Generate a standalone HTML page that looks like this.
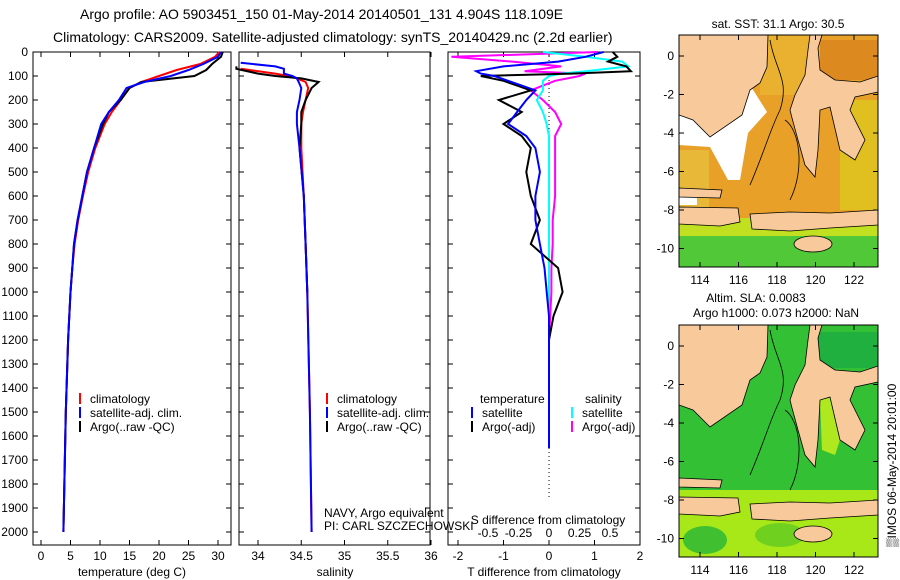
<!DOCTYPE html>
<html><head><meta charset="utf-8"><style>
body{margin:0;background:#fff;font-family:"Liberation Sans",sans-serif}
svg{display:block}
text{font-family:"Liberation Sans",sans-serif;font-size:12px;fill:#000}
</style></head><body>
<svg id="s" width="900" height="580">
<text x="80" y="19" style="font-size:14px">Argo profile: AO 5903451_150 01-May-2014 20140501_131 4.904S 118.109E</text>
<text x="53" y="42" style="font-size:14px">Climatology: CARS2009. Satellite-adjusted climatology: synTS_20140429.nc (2.2d earlier)</text>
<g id="maps"></g>
<g id="plots"></g>
<text transform="translate(896,547) rotate(-90)" style="font-size:12px">▒IMOS 06-May-2014 20:01:00</text>
</svg>
<script>
// ---- data ----
const depthTicks=[0,100,200,300,400,500,600,700,800,900,1000,1100,1200,1300,1400,1500,1600,1700,1800,1900,2000];
const tempTicks=[0,5,10,15,20,25,30];
const salTicks=[34,34.5,35,35.5,36];
const sTicksDiff=[-0.5,-0.25,0,0.25,0.5];
const tTicksDiff=[-2,-1,0,1,2];
const depthT=[0,20,50,75,100,125,150,200,250,300,400,500,600,700,800,900,1000,1200,1500,2000];
const tempClim=[30.2,29.5,27,23,20,17,15,13.5,12,10.8,9.2,8,7.1,6.3,5.7,5.3,5,4.6,4.2,3.8];
const tempSat=[30.5,30,27.5,25,22,17.5,14.5,13.2,11.5,10.2,9,7.8,7,6.2,5.6,5.3,5,4.6,4.2,3.8];
const tempArgo=[30.8,30.5,29,28,26,17,15,13.5,11.5,10.5,9,7.8,7,6.2,5.6,5.3,5,4.6,4.2,3.8];
const depthS=[45,60,70,90,100,110,125,150,200,250,300,400,600,800,1000,1500,2000];
const salClim=[null,null,33.8,34.2,34.35,34.45,34.55,34.58,34.55,34.52,34.5,34.5,34.53,34.55,34.57,34.6,34.62];
const salSat=[33.8,34.2,34.3,34.3,34.4,34.45,34.47,34.5,34.48,34.45,34.45,34.48,34.53,34.55,34.57,34.6,34.62];
const salArgo=[null,33.75,33.75,34.0,34.2,34.5,34.7,34.62,34.55,34.5,34.5,34.48,34.53,34.55,34.57,null,null];
const depthD=[0,20,40,60,80,90,100,120,140,160,200,250,300,350,400,500,600,700,800,900,1000,1100,1200,1400,1650];
const tDiffSat=[1.2,0.8,0.2,-1.0,-1.6,-1.5,-1.2,-0.9,-0.6,-0.3,-0.5,-0.7,-0.9,-0.5,-0.3,-0.2,-0.3,-0.3,-0.2,-0.1,-0.05,0,0,0,0];
const tDiffArgo=[1.4,1.5,1.3,1.7,1.8,0.5,-1.5,-1.0,-0.7,-0.4,-1.1,-0.6,-1.0,-0.6,-0.4,-0.5,-0.4,-0.2,-0.4,0.2,0.3,0.1,0,0,0];
const sDiffSat=[-0.05,0.3,0.6,0.65,0.3,0.1,0,-0.05,-0.05,-0.05,-0.1,-0.05,-0.02,0,0,0,0,0,0,0,0,0,0,0,0];
const sDiffArgo=[0.4,-0.8,-0.3,0.1,-0.2,0.3,0.25,0.05,-0.05,-0.15,-0.05,0.05,0.1,0.05,0.05,0.05,0.05,0.03,0.03,0.02,0.02,0.01,0,0,0];
const mapLonTicks=[114,116,118,120,122];
const mapLatTicks=[0,-2,-4,-6,-8,-10];

const NS='http://www.w3.org/2000/svg';
function mk(tag,attrs,parent){const e=document.createElementNS(NS,tag);for(const k in attrs)e.setAttribute(k,attrs[k]);parent.appendChild(e);return e;}
const plots=document.getElementById('plots');
const yD=d=>52+d*0.24;
function panel(name,x0,x1,xf,ticks,tickFmt,showY){
  const g=mk('g',{},plots);
  
  
  const r=mk('rect',{x:x0,y:52,width:x1-x0,height:493,fill:'none',stroke:'#000','stroke-width':1},g);
  
  
  depthTicks.forEach(d=>{
    mk('line',{x1:x0,x2:x0+5,y1:yD(d),y2:yD(d),stroke:'#000'},g);
    mk('line',{x1:x1,x2:x1-5,y1:yD(d),y2:yD(d),stroke:'#000'},g);
    if(showY){const t=mk('text',{x:x0-5,y:yD(d)+4,'text-anchor':'end'},g);t.textContent=d;
      
      }
  });
  ticks.forEach(v=>{
    const x=xf(v);
    mk('line',{x1:x,x2:x,y1:545,y2:540,stroke:'#000'},g);
    mk('line',{x1:x,x2:x,y1:52,y2:57,stroke:'#000'},g);
    const t=mk('text',{x:x,y:560,'text-anchor':'middle'},g);t.textContent=tickFmt(v);
    
    
  });
  return g;
}
function line(g,xs,ds,xf,col,name,w){
  let p='';let pen=false;
  xs.forEach((v,i)=>{if(v===null){pen=false;return;}p+=(pen?'L':'M')+xf(v).toFixed(1)+','+yD(ds[i]).toFixed(1);pen=true;});
  const e=mk('path',{d:p,fill:'none',stroke:col,'stroke-width':w||2},g);
  
  
}
function txt(g,x,y,s,name,anchor){const t=mk('text',{x:x,y:y,'text-anchor':anchor||'start'},g);t.textContent=s;
  
  return t;}
function legItem(g,x,y,col,s,name){mk('line',{x1:x,x2:x,y1:y-10,y2:y+1,stroke:col,'stroke-width':2},g);txt(g,x+10,y,s,name);}

// Panel 1 temperature
const xT=v=>41+v*5.9;
const p1=panel('temperature-panel',33,231,xT,tempTicks,v=>v,true);
line(p1,tempClim,depthT,xT,'#f00','temp-climatology-line');
line(p1,tempArgo,depthT,xT,'#000','temp-argo-line');
line(p1,tempSat,depthT,xT,'#00f','temp-satellite-line');
txt(p1,132,576,'temperature (deg C)','temperature-axis-title','middle');
legItem(p1,80,403,'#f00','climatology','legend-climatology');
legItem(p1,80,417,'#00f','satellite-adj. clim.','legend-satellite');
legItem(p1,80,431,'#000','Argo(..raw -QC)','legend-argo');

// Panel 2 salinity
const xS=v=>258+(v-34)*86.5;
const p2=panel('salinity-panel',239,430,xS,salTicks,v=>v,false);
line(p2,salClim,depthS,xS,'#f00','sal-climatology-line');
line(p2,salArgo,depthS,xS,'#000','sal-argo-line');
line(p2,salSat,depthS,xS,'#00f','sal-satellite-line');
txt(p2,335,576,'salinity','salinity-axis-title','middle');
legItem(p2,327,403,'#f00','climatology','legend-climatology-2');
legItem(p2,327,417,'#00f','satellite-adj. clim.','legend-satellite-2');
legItem(p2,327,431,'#000','Argo(..raw -QC)','legend-argo-2');
txt(p2,324,517,'NAVY, Argo equivalent','navy-label');
txt(p2,324,530,'PI: CARL SZCZECHOWSKI','pi-label');

// Panel 3 differences
const xTd=v=>549+v*45.5;
const xSd=v=>549+v*122;
const p3=panel('difference-panel',448,640,xTd,tTicksDiff,v=>v,false);
sTicksDiff.forEach(v=>{txt(p3,xSd(v),537,v,'s-diff-tick-label','middle');});
mk('line',{x1:549,x2:549,y1:52,y2:500,stroke:'#000','stroke-dasharray':'1,3'},p3);
line(p3,sDiffArgo,depthD,xSd,'#f0f','s-diff-argo-line');
line(p3,sDiffSat,depthD,xSd,'#0ff','s-diff-satellite-line');
line(p3,tDiffArgo,depthD,xTd,'#000','t-diff-argo-line');
line(p3,tDiffSat,depthD,xTd,'#00f','t-diff-satellite-line');
txt(p3,548,524,'S difference from climatology','s-diff-axis-title','middle');
txt(p3,544,576,'T difference from climatology','t-diff-axis-title','middle');
txt(p3,480,403,'temperature','legend-temperature-header');
txt(p3,585,403,'salinity','legend-salinity-header');
legItem(p3,472,417,'#00f','satellite','legend-t-satellite');
legItem(p3,472,431,'#000','Argo(-adj)','legend-t-argo');
legItem(p3,572,417,'#0ff','satellite','legend-s-satellite');
legItem(p3,572,431,'#f0f','Argo(-adj)','legend-s-argo');

// Maps
const maps=document.getElementById('maps');
const mLon=l=>700+(l-114)*19.25;
function poly(g,pts,yOff,fill,stroke){
  return mk('polygon',{points:pts.map(p=>p[0]+','+(p[1]+yOff)).join(' '),fill:fill,stroke:stroke||'none','stroke-width':0.8},g);
}
function map(name,yOff,top){
  const g=mk('g',{},maps);
  
  
  const lat0=56+yOff;
  if(top){
    mk('rect',{x:679,y:35+yOff,width:199,height:232,fill:'#e8a028'},g);
    mk('rect',{x:760,y:35+yOff,width:60,height:60,fill:'#eab030'},g);
    mk('rect',{x:820,y:40+yOff,width:58,height:40,fill:'#dc8a20'},g);
    mk('rect',{x:840,y:100+yOff,width:38,height:110,fill:'#e0c020'},g);
    mk('rect',{x:679,y:150+yOff,width:30,height:60,fill:'#e8b838'},g);
    mk('rect',{x:679,y:218+yOff,width:199,height:20,fill:'#c0e020'},g);
    mk('rect',{x:679,y:236+yOff,width:199,height:31,fill:'#50c838'},g);
    poly(g,[[679,115],[693,120],[710,137],[742,115],[750,85],[767,112],[748,133],[740,180],[728,180],[710,147],[679,145]],yOff,'#fff');
    mk('rect',{x:679,y:195+yOff,width:18,height:10,fill:'#fff'},g);
  }else{
    mk('rect',{x:679,y:35+yOff,width:199,height:232,fill:'#34c034'},g);
    mk('rect',{x:818,y:42+yOff,width:60,height:36,fill:'#20b040'},g);
    poly(g,[[820,110],[833,107],[840,150],[835,165],[822,160]],yOff,'#b0e820');
    mk('rect',{x:679,y:200+yOff,width:199,height:67,fill:'#a8e818'},g);
    mk('ellipse',{cx:705,cy:250+yOff,rx:22,ry:14,fill:'#40c030'},g);
    mk('ellipse',{cx:780,cy:245+yOff,rx:25,ry:12,fill:'#70d020'},g);
  }
  const land='#f7c99b';
  poly(g,[[679,35],[768,35],[767,67],[760,83],[750,90],[742,115],[710,137],[693,120],[679,115]],yOff,land,'#000');
  poly(g,[[810,35],[822,35],[818,48],[820,70],[835,80],[860,82],[878,76],[878,92],[855,97],[850,110],[865,140],[855,160],[840,150],[833,120],[830,107],[820,110],[818,150],[815,177],[805,165],[798,140],[792,118],[790,110],[795,95],[805,75],[808,50]],yOff,land,'#000');
  poly(g,[[679,188],[722,190],[720,198],[679,197]],yOff,land,'#000');
  poly(g,[[679,207],[738,208],[740,222],[720,226],[679,224]],yOff,land,'#000');
  poly(g,[[750,214],[790,212],[830,213],[878,210],[878,225],[830,228],[790,231],[752,229]],yOff,land,'#000');
  mk('ellipse',{cx:813,cy:244+yOff,rx:19,ry:8,fill:land,stroke:'#000','stroke-width':0.8},g);
  mk('path',{d:'M770,40 C775,70 790,80 780,110 C770,130 765,150 750,185 M785,120 C800,130 805,170 790,200',fill:'none',stroke:'#000','stroke-width':0.8,transform:'translate(0,'+yOff+')'},g);
  mk('rect',{x:679,y:35+yOff,width:199,height:232,fill:'none',stroke:'#000'},g);
  mapLonTicks.forEach(l=>{const x=mLon(l);
    mk('line',{x1:x,x2:x,y1:35+yOff,y2:40+yOff,stroke:'#000'},g);
    mk('line',{x1:x,x2:x,y1:267+yOff,y2:262+yOff,stroke:'#000'},g);
    txt(g,x,284+yOff,l,'lon-tick-label','middle');});
  mapLatTicks.forEach(l=>{const y=lat0-l*19.25;
    mk('line',{x1:679,x2:684,y1:y,y2:y,stroke:'#000'},g);
    mk('line',{x1:878,x2:873,y1:y,y2:y,stroke:'#000'},g);
    txt(g,674,y+4,l,'lat-tick-label','end');});
  return g;
}
const m1=map('sst-map',0,true);
txt(m1,778,28,'sat. SST: 31.1  Argo: 30.5','sst-map-title','middle');
const m2=map('sla-map',290,false);
txt(m2,756,302,'Altim. SLA: 0.0083','sla-map-title','middle');
txt(m2,776,317,'Argo h1000: 0.073 h2000: NaN','sla-map-subtitle','middle');
</script>
</body></html>
